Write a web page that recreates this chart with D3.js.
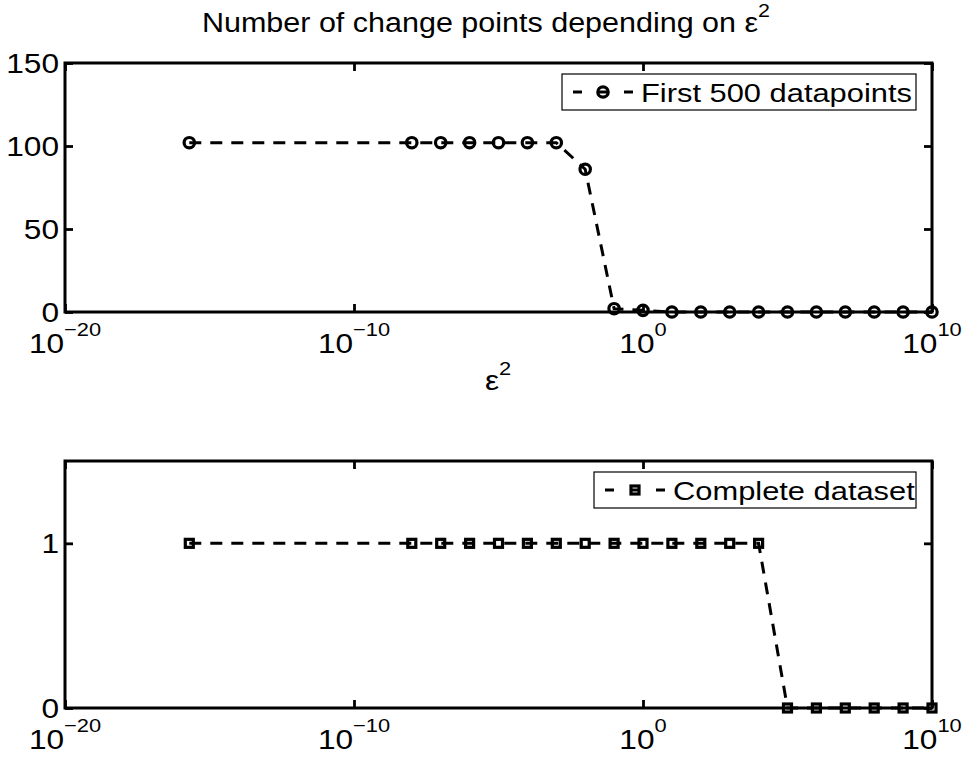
<!DOCTYPE html>
<html>
<head>
<meta charset="utf-8">
<script src="https://cdn.jsdelivr.net/npm/d3@7"></script>
<style>
  html, body { margin: 0; padding: 0; background: #fff; }
  svg { display: block; }
  text { font-family: "Liberation Sans", Arial, Helvetica, sans-serif; fill: #000; }
</style>
</head>
<body>
<svg id="chart" width="962" height="758"></svg>
<script>
// ---- data ----
const epsValues = [2e-16, 1e-8, 1e-7, 1e-6, 1e-5, 1e-4, 1e-3, 1e-2, 1e-1, 1e0,
                   1e1, 1e2, 1e3, 1e4, 1e5, 1e6, 1e7, 1e8, 1e9, 1e10];
const first500 = [102, 102, 102, 102, 102, 102, 102, 86, 2, 1,
                  0, 0, 0, 0, 0, 0, 0, 0, 0, 0];
const complete = [1, 1, 1, 1, 1, 1, 1, 1, 1, 1,
                  1, 1, 1, 1, 0, 0, 0, 0, 0, 0];
const xTickValues = [1e-20, 1e-10, 1e0, 1e10];
const xTickExps = ["\u221220", "\u221210", "0", "10"];
const yTopTicks = [0, 50, 100, 150];
const yBotTicks = [0, 1];
const titleText = "Number of change points depending on \u03b5";
const xLabelText = "\u03b5";
const legendTop = "First 500 datapoints";
const legendBot = "Complete dataset";

// ---- layout ----
const svg = d3.select("#chart");
const L = 65, R = 932;
const x = d3.scaleLog().domain([1e-20, 1e10]).range([L, R]);
const panels = [
  { top: 63, bottom: 312, domain: [0, 150], ticks: yTopTicks, values: first500,
    marker: "circle", legend: legendTop, legendBox: [562, 916] },
  { top: 461, bottom: 708, domain: [0, 1.5], ticks: yBotTicks, values: complete,
    marker: "square", legend: legendBot, legendBox: [594, 916] }
];

// text with horizontal stretch; parts: [{s, sup, dy}]
function stext(parent, px, py, parts, anchor, fs, fss, sx) {
  const g = parent.append("g").attr("transform", `translate(${px},${py}) scale(${sx},1)`);
  const t = g.append("text").attr("text-anchor", anchor || "middle").attr("font-size", fs);
  parts.forEach(p => {
    const ts = t.append("tspan").text(p.s);
    if (p.sup) ts.attr("font-size", fss).attr("dy", p.dy || -17);
  });
  return t;
}

function drawMarker(g, type, cx, cy) {
  if (type === "circle") {
    g.append("circle").attr("cx", cx).attr("cy", cy).attr("r", 5.2)
      .attr("fill", "none").attr("stroke", "#000").attr("stroke-width", 3.2);
  } else {
    g.append("rect").attr("x", cx - 4).attr("y", cy - 4).attr("width", 8).attr("height", 8)
      .attr("fill", "none").attr("stroke", "#000").attr("stroke-width", 3.2);
  }
}

panels.forEach(p => {
  const y = d3.scaleLinear().domain(p.domain).range([p.bottom, p.top]);
  const g = svg.append("g");

  // ticks (inward) on all four sides
  const axB = g.append("g").attr("transform", `translate(0,${p.bottom})`)
    .call(d3.axisBottom(x).tickValues(xTickValues).tickSize(-8).tickFormat(""));
  const axT = g.append("g").attr("transform", `translate(0,${p.top})`)
    .call(d3.axisTop(x).tickValues(xTickValues).tickSize(-8).tickFormat(""));
  const axL = g.append("g").attr("transform", `translate(${L},0)`)
    .call(d3.axisLeft(y).tickValues(p.ticks).tickSize(-8).tickFormat(""));
  const axR = g.append("g").attr("transform", `translate(${R},0)`)
    .call(d3.axisRight(y).tickValues(p.ticks).tickSize(-8).tickFormat(""));
  [axB, axT, axL, axR].forEach(a => {
    a.select(".domain").remove();
    a.selectAll(".tick line").attr("stroke", "#000").attr("stroke-width", 2.8);
  });

  // data line
  const line = d3.line().x((d, i) => x(epsValues[i])).y(d => y(d));
  g.append("path").datum(p.values).attr("d", line)
    .attr("fill", "none").attr("stroke", "#000").attr("stroke-width", 3)
    .attr("stroke-dasharray", "12,9");
  p.values.forEach((v, i) => drawMarker(g, p.marker, x(epsValues[i]), y(v)));

  // box
  g.append("rect").attr("x", L).attr("y", p.top).attr("width", R - L).attr("height", p.bottom - p.top)
    .attr("fill", "none").attr("stroke", "#000").attr("stroke-width", 3);

  // y tick labels
  p.ticks.forEach(t => {
    stext(g, 59, y(t) + 10, [{ s: String(t) }], "end", 27.5, 19, 1.15);
  });
  // x tick labels
  xTickValues.forEach((t, i) => {
    stext(g, x(t), p.bottom + 41, [{ s: "10" }, { s: xTickExps[i], sup: true }], "middle", 27.5, 19, 1.15);
  });

  // legend
  const lx0 = p.legendBox[0], lx1 = p.legendBox[1];
  const ly0 = p.top + 11, ly1 = p.top + 47;
  const lg = g.append("g");
  lg.append("rect").attr("x", lx0).attr("y", ly0).attr("width", lx1 - lx0).attr("height", ly1 - ly0)
    .attr("fill", "#fff").attr("stroke", "#000").attr("stroke-width", 1.2);
  const lcy = (ly0 + ly1) / 2;
  lg.append("line").attr("x1", lx0 + 11).attr("x2", lx0 + 71).attr("y1", lcy).attr("y2", lcy)
    .attr("stroke", "#000").attr("stroke-width", 3).attr("stroke-dasharray", "9,16,10,16,9,100");
  drawMarker(lg, p.marker, lx0 + 41, lcy);
  stext(lg, lx0 + 79, lcy + 9.5, [{ s: p.legend }], "start", 25.5, 18, 1.21);
});

// title and x label
stext(svg, 486, 32, [{ s: titleText }, { s: "2", sup: true, dy: -15 }], "middle", 27, 19, 1.13);
stext(svg, 498, 390, [{ s: xLabelText }, { s: "2", sup: true, dy: -15 }], "middle", 27.5, 19, 1.15);
</script>
</body>
</html>
